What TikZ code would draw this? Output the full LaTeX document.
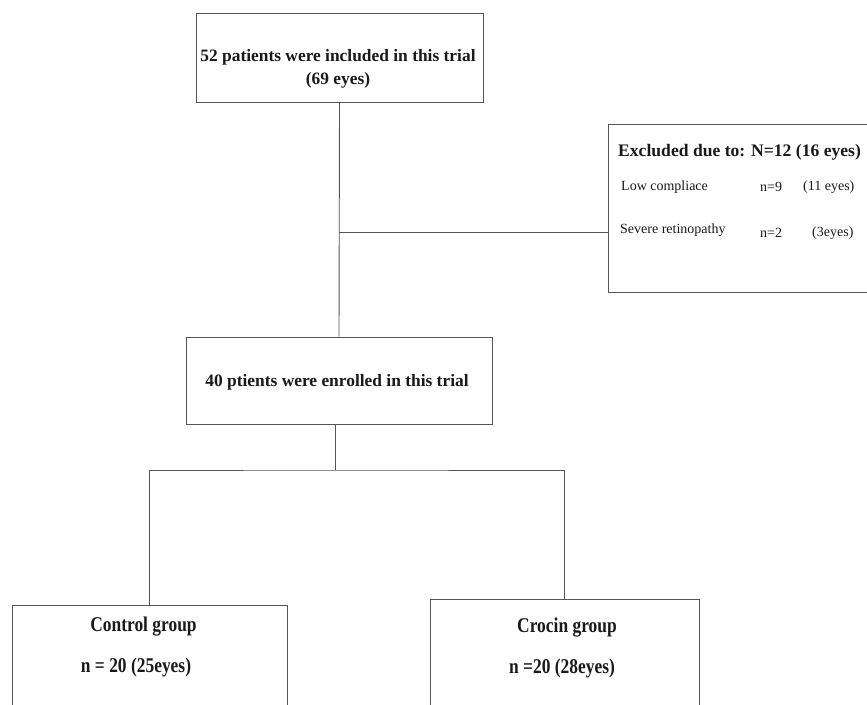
\documentclass[tikz,border=0pt]{standalone}
\usepackage{fontspec}
\setmainfont{Liberation Serif}
\newfontfamily\stretto[FakeStretch=0.83]{Liberation Serif}
\definecolor{linea}{RGB}{85,85,85}
\begin{document}
\begin{tikzpicture}[x=1pt,y=-1pt,
    box/.style={draw=linea,line width=0.9pt,inner sep=0pt,rectangle},
    big/.style={font=\fontsize{17.4}{23}\selectfont\bfseries,text=black!90,align=center},
    grp/.style={font=\stretto\fontsize{21}{23}\selectfont\bfseries,text=black!90},
    small/.style={font=\fontsize{14}{16}\selectfont,text=black!90,anchor=west,inner sep=0pt},
    conn/.style={draw=linea,line width=0.9pt}]
    \useasboundingbox (0,0) rectangle (867,704);
    \clip (0,0) rectangle (867,704);
    % Riquadri
    \node[box,minimum width=287,minimum height=89] (incl) at (339.5,57.5) {};
    \node[box,minimum width=306,minimum height=87] (enr) at (339,380.5) {};
    \node[box,minimum width=272,minimum height=168] (excl) at (744,208) {};
    \node[box,minimum width=275,minimum height=110] (ctrl) at (149.5,660) {};
    \node[box,minimum width=269,minimum height=116] (croc) at (564.5,657) {};
    % Testi
    \node[big] (incltxt) at (338,68.5) {52 patients were included in this trial\\(69 eyes)};
    \node[big] (enrtxt) at (337,382) {40 ptients were enrolled in this trial};
    \node[big,font=\fontsize{17.6}{22}\selectfont\bfseries,anchor=west,inner sep=0pt] (excltxt) at (618,152) {Excluded due to: N=12 (16 eyes)};
    \node[small] (low) at (621,187) {Low compliace};
    \node[small] (lown) at (760,187) {n=9};
    \node[small] (lowe) at (803,187) {(11 eyes)};
    \node[small] (sev) at (620,230) {Severe retinopathy};
    \node[small] (sevn) at (760,233) {n=2};
    \node[small] (seve) at (812,233) {(3eyes)};
    \node[grp] (ctrltxt) at (143.5,627) {Control group};
    \node[grp] (ctrln) at (136,667) {n = 20 (25eyes)};
    \node[grp] (croctxt) at (567,628) {Crocin group};
    \node[grp] (crocn) at (562,668) {n =20 (28eyes)};
    % Collegamenti
    \coordinate (branch) at (339,232);
    \coordinate (split) at (335,470);
    \draw[conn] (incl.south) -- (enr.north);
    \draw[conn] (branch) -- (branch -| excl.west);
    \draw[conn] (split |- enr.south) -- (split);
    \draw[conn] (ctrl.north) |- (split) -| (croc.north);
\end{tikzpicture}
\end{document}
